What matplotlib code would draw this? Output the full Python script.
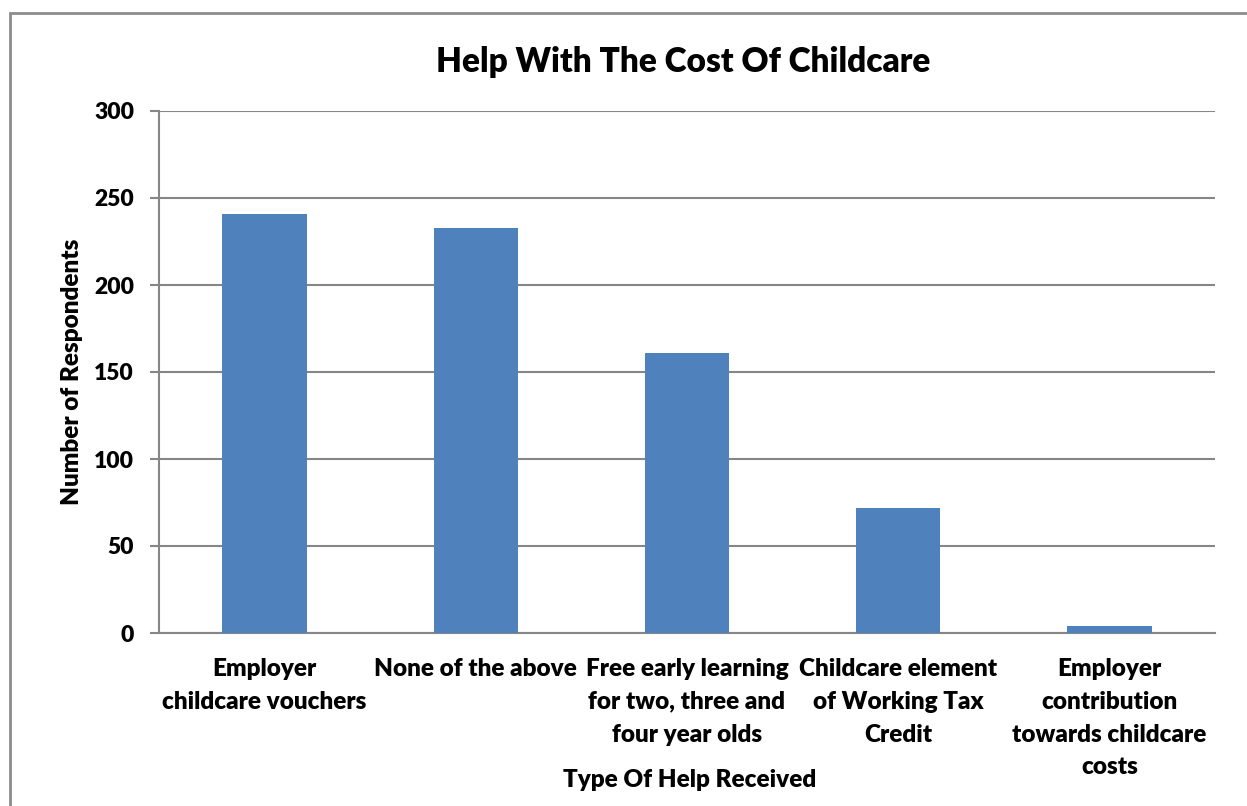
import matplotlib
matplotlib.use("Agg")
from matplotlib import pyplot as plt
from matplotlib.patches import Rectangle

# chart data
categories = ["Employer\nchildcare vouchers", "None of the above",
              "Free early learning\nfor two, three and\nfour year olds",
              "Childcare element\nof Working Tax\nCredit",
              "Employer\ncontribution\ntowards childcare\ncosts"]
respondents = [241, 233, 161, 72, 4]
yticks = [0, 50, 100, 150, 200, 250, 300]

plt.rcParams['font.family'] = ['Lato', 'DejaVu Sans']
WT = 'heavy'

fig = plt.figure(figsize=(12.47, 8.06), dpi=100)
W, H = 1247, 806
ax = fig.add_axes([159 / W, 1 - 633 / H, (1215 - 159) / W, (633 - 111) / H])

# outer chart border (clipped at right and bottom like the original)
fig.patches.append(Rectangle((10 / W, -0.1), 1.2, 1 - 13 / H + 0.1,
                             transform=fig.transFigure, fill=False,
                             edgecolor='#8c8c8c', linewidth=2))

x = range(len(categories))
ax.bar(x, respondents, width=0.4, color='#4F81BD', zorder=3)

ax.set_xlim(-0.5, len(categories) - 0.5)
ax.set_ylim(0, 300)
ax.set_yticks(yticks)
ax.set_yticklabels([str(t) for t in yticks], fontsize=16.5, fontweight=WT)
ax.set_xticks(list(x))
ax.set_xticklabels(categories, fontsize=17.5, fontweight=WT, linespacing=1.6)
ax.tick_params(axis='x', length=0, pad=18)
ax.tick_params(axis='y', length=6.5, width=1.5, color='#868686', pad=11.5)

ax.grid(axis='y', color='#868686', linewidth=1.5, zorder=0)
for s in ['top', 'right']:
    ax.spines[s].set_visible(False)
for s in ['left', 'bottom']:
    ax.spines[s].set_color('#868686')
    ax.spines[s].set_linewidth(1.5)

ax.set_ylabel("Number of Respondents", fontsize=17.5, fontweight=WT, labelpad=8)
fig.text(690 / W, 1 - 780 / H, "Type Of Help Received", ha='center', va='center',
         fontsize=17.5, fontweight=WT)
fig.text(683 / W, 1 - 62 / H, "Help With The Cost Of Childcare", ha='center',
         va='center', fontsize=24, fontweight=WT)

fig.savefig("out.png", dpi=100)
